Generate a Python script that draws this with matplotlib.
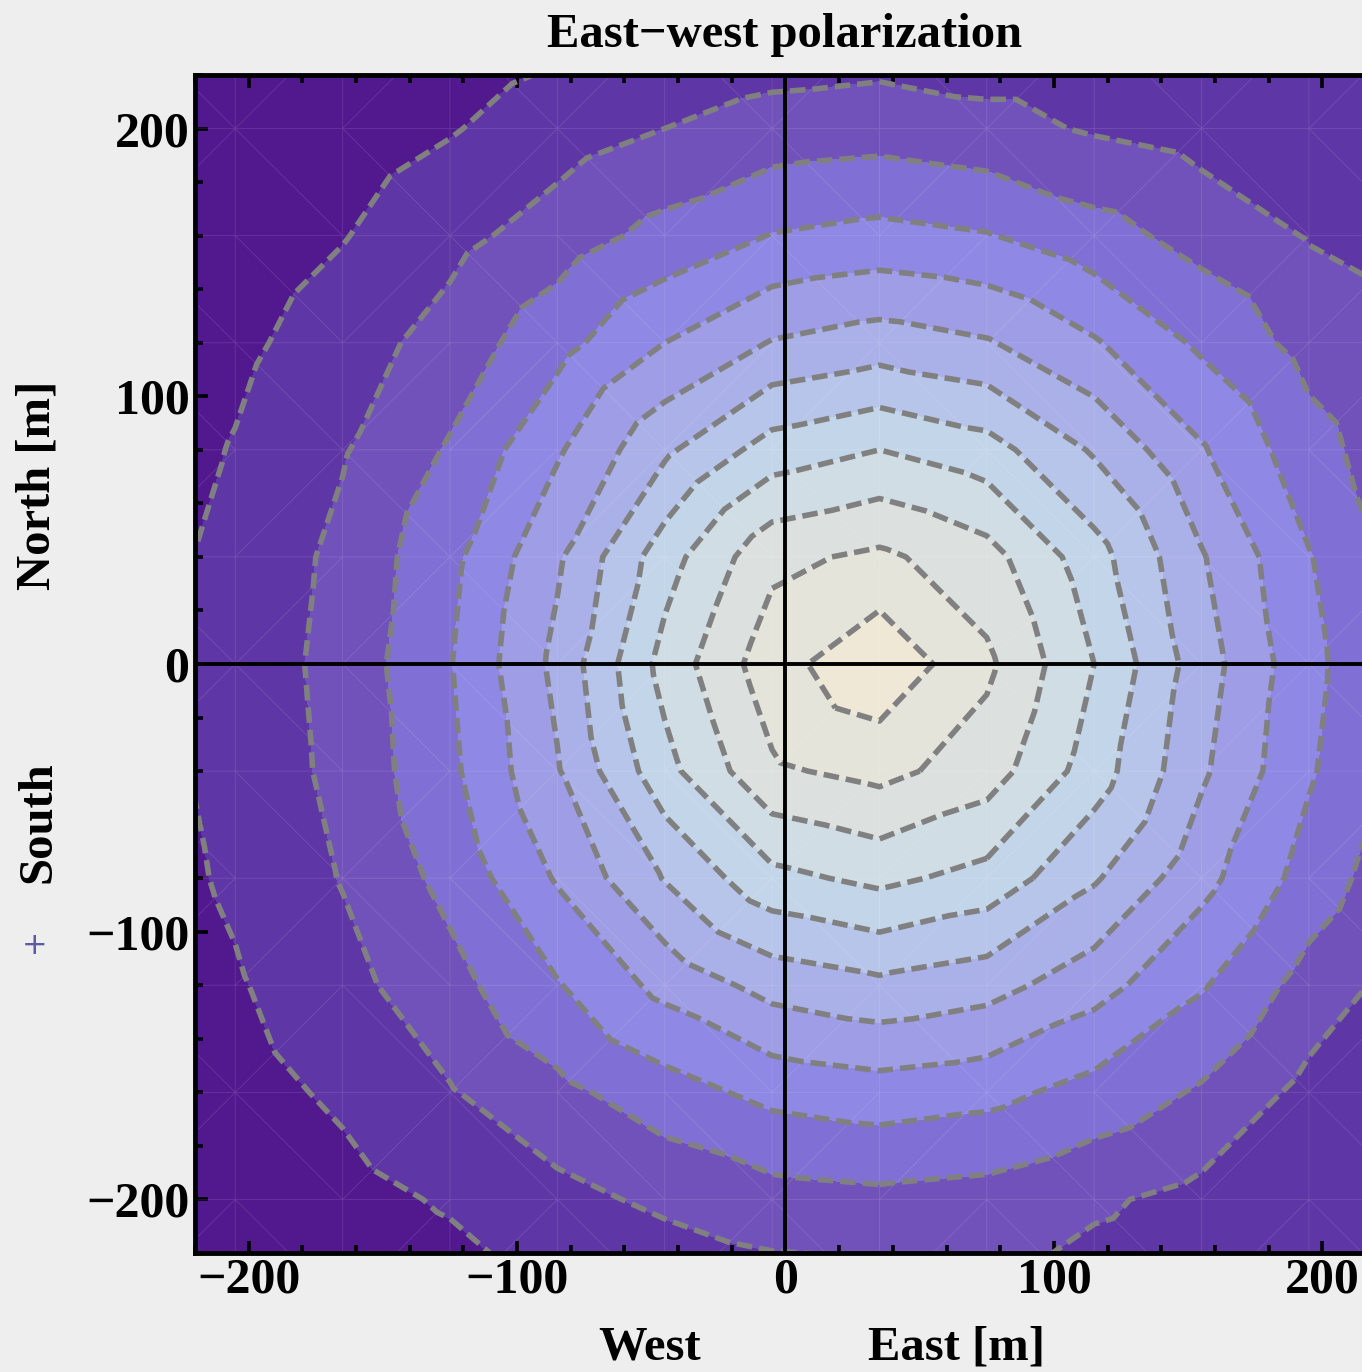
import numpy as np
import matplotlib
matplotlib.use('Agg')
import matplotlib.pyplot as plt
import matplotlib.tri as mtri
from matplotlib.ticker import MultipleLocator

# sample positions of the field (m)
east_m = [-245, -205, -165, -125, -85, -45, -5, 35, 75, 115, 155, 195, 235]
north_m = [-240, -200, -160, -120, -80, -40, 0, 40, 80, 120, 160, 200, 240]

# field level at each east_m, one row per north_m (south -> north)
row_s240 = [-0.6, -0.2, 0.12, 0.45, 0.8, 1.1, 1.35, 1.44, 1.6, 1.5, 1.3, 1.15, 1.0]
row_s200 = [-0.2, 0.22, 0.64, 1.12, 1.7, 2.2, 2.6, 2.75, 2.6, 2.15, 1.7, 1.35, 1.15]
row_s160 = [0.1, 0.6, 1.18, 1.93, 2.73, 3.57, 4.29, 4.55, 4.31, 3.64, 2.88, 1.7, 1.3]
row_s120 = [0.3, 0.9, 1.68, 2.66, 3.93, 5.3, 6.36, 6.77, 6.39, 5.4, 4.1, 2.6, 1.5]
row_s80 = [0.5, 1.16, 2.05, 3.3, 5.1, 7.06, 8.72, 9.25, 8.66, 7.12, 5.33, 3.6, 2.1]
row_s40 = [0.6, 1.3, 2.27, 3.78, 5.92, 8.67, 10.85, 11.3, 10.5, 8.5, 6.17, 4.12, 2.56]
row_0 = [0.62, 1.36, 2.35, 3.95, 6.26, 9.36, 11.6, 12.8, 11.2, 9.0, 6.47, 4.30, 2.63]
row_n40 = [0.57, 1.28, 2.24, 3.73, 5.85, 8.57, 10.75, 11.2, 10.39, 8.41, 6.09, 4.06, 2.52]
row_n80 = [0.42, 1.06, 1.92, 3.10, 4.87, 6.81, 8.45, 9.0, 8.41, 6.88, 5.10, 3.39, 2.19]
row_n120 = [0.21, 0.77, 1.50, 2.42, 3.65, 5.00, 6.06, 6.47, 6.09, 5.10, 3.82, 2.63, 1.86]
row_n160 = [-0.04, 0.40, 0.95, 1.68, 2.48, 3.32, 4.04, 4.30, 4.06, 3.39, 2.63, 1.94, 1.56]
row_n200 = [-0.33, 0.05, 0.46, 0.93, 1.50, 2.00, 2.41, 2.55, 2.3, 1.9, 1.6, 1.4, 1.22]
row_n240 = [-0.70, -0.32, 0.00, 0.31, 0.66, 0.95, 1.20, 1.29, 1.2, 1.2, 1.2, 1.15, 0.86]

contour_levels = [1, 2, 3, 4, 5, 6, 7, 8, 9, 10, 11, 12]
band_colors = ['#52198f', '#5f36a6', '#7152bb', '#8070d5', '#8f88e5', '#9f9de6',
               '#aab0e8', '#b8c5ea', '#c3d6e9', '#d0dde4', '#dce1df', '#e5e4da', '#efe8d7']

tick_values = [-200, -100, 0, 100, 200]

SERIF = 'Liberation Serif'


def main():
    field = np.array([row_s240, row_s200, row_s160, row_s120, row_s80, row_s40, row_0,
                      row_n40, row_n80, row_n120, row_n160, row_n200, row_n240])
    gx, gy = np.meshgrid(east_m, north_m)
    tri = mtri.Triangulation(gx.ravel(), gy.ravel())
    z = field.ravel()

    fig = plt.figure(figsize=(13.62, 13.72), dpi=100, facecolor='#eeeeee')
    ax = fig.add_axes([195 / 1362, 119 / 1372, 1181 / 1362, 1178 / 1372])

    fill_levels = [-5] + contour_levels + [20]
    ax.tricontourf(tri, z, levels=fill_levels, colors=band_colors, zorder=1)
    ax.triplot(tri, color='white', alpha=0.12, lw=0.6, zorder=2)

    cs = ax.tricontour(tri, z, levels=contour_levels, colors='#808080',
                       linewidths=4.0, zorder=3)
    cs.set_linestyle((0, (2.8, 1.25)))

    ax.axhline(0, color='black', lw=2.8, zorder=4)
    ax.axvline(0, color='black', lw=2.8, zorder=4)

    ax.set_xlim(-220, 220)
    ax.set_ylim(-220, 220)
    ax.set_xticks(tick_values)
    ax.set_yticks(tick_values)
    ax.xaxis.set_minor_locator(MultipleLocator(20))
    ax.yaxis.set_minor_locator(MultipleLocator(20))
    ax.tick_params(which='both', direction='in', top=True, right=True, width=2.6)
    ax.tick_params(which='major', length=9)
    ax.tick_params(which='minor', length=5.5)
    ax.tick_params(axis='x', pad=3)
    ax.tick_params(axis='y', pad=4)
    for lab in ax.get_xticklabels() + ax.get_yticklabels():
        lab.set_fontfamily(SERIF)
        lab.set_fontweight('bold')
        lab.set_fontsize(36)
    for sp in ax.spines.values():
        sp.set_linewidth(3.5)
        sp.set_zorder(5)

    txt = dict(family=SERIF, weight='bold', fontsize=35, ha='center', va='center')
    fig.text(785 / 1362, 1 - 35 / 1372, 'East\u2212west polarization', **txt)
    fig.text(650 / 1362, 1 - 1348 / 1372, 'West', **txt)
    fig.text(957 / 1362, 1 - 1348 / 1372, 'East [m]', **txt)
    fig.text(38 / 1362, 1 - 485 / 1372, 'North [m]', rotation=90, **txt)
    fig.text(38 / 1362, 1 - 822 / 1372, 'South', rotation=90, **txt)
    fig.text(35 / 1362, 1 - 945 / 1372, '+', color='#5a5aa8', fontsize=22,
             ha='center', va='center')

    plt.savefig('out.png', dpi=100, facecolor=fig.get_facecolor())
    plt.close()


if __name__ == "__main__":
    main()
